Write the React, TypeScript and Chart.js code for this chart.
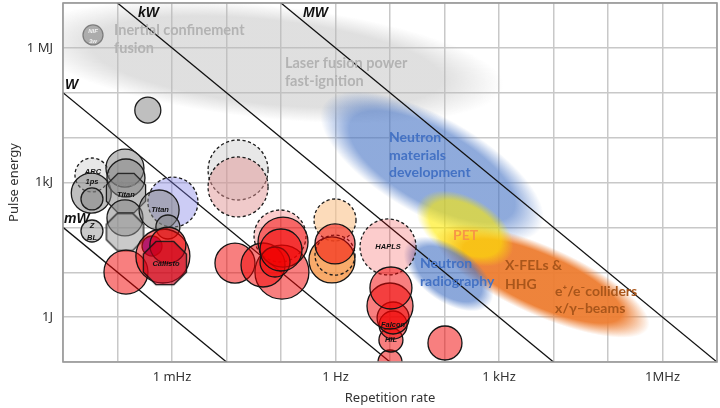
import { useEffect, useRef } from "react";
import { Chart, registerables } from "chart.js";

Chart.register(...registerables);

// ---------- axes ----------
const xTickValues = [1e-5, 1e-4, 1e-3, 1e-2, 1e-1, 1, 1e1, 1e2, 1e3, 1e4, 1e5, 1e6, 1e7];
const xLabeledValues = [1e-3, 1, 1e3, 1e6];
const xTickLabels = ["1 mHz", "1 Hz", "1 kHz", "1MHz"];
const yTickValues = [1e-1, 1, 1e1, 1e2, 1e3, 1e4, 1e5, 1e6, 1e7];
const yLabeledValues = [1, 1e3, 1e6];
const yTickLabels = ["1J", "1kJ", "1 MJ"];

// ---------- constant-power lines (W) ----------
const powerLevels = [1e-3, 1, 1e3, 1e6];
const powerLabels = ["mW", "W", "kW", "MW"];
const powerLabelFreq = [1.04e-5, 1.09e-5, 2.38e-4, 0.254];
const powerLabelEnergy = [154, 1.49e5, 5.98e6, 5.98e6];

// ---------- facilities (bubbles), listed bottom to top ----------
const bubbleFreq = [
  3.55e-5, 3.6e-4, 3.4e-5, 3.3e-5, 3.4e-5, 1.37e-4, 1.43e-4, 1.43e-4, 1.37e-4, 1.37e-4, 1.04e-3, 5.8e-4, 8.4e-4, 3.4e-5,
  1.43e-4, 4.3e-4, 6.8e-4, 8.4e-4, 7.4e-4,
  0.0163, 0.0163,
  0.096, 0.0143, 0.104, 0.0468, 0.109, 0.0776, 0.1,
  0.98, 0.86, 0.98, 0.98,
  9.2, 10, 10.4, 11.4, 11.4, 10, 10.4,
  102,
];
const bubbleEnergy = [
  1.94e6, 4.1e4, 1470, 580, 430, 2100, 1260, 580, 162, 79, 367, 244, 102, 83,
  10.1, 38.5, 23, 40, 16,
  1900, 795,
  64.3, 16, 10.1, 14.5, 47, 16.9, 31.3,
  146, 18.8, 24.2, 42.7,
  36.6, 0.1, 0.309, 0.668, 0.957, 1.77, 4.46,
  0.265,
];
const bubbleSize = [
  10, 13, 17, 20, 11, 19, 19, 20, 18, 19, 25, 20, 12, 11,
  22, 10, 27, 18, 22,
  30, 30,
  26, 20, 27, 22, 25, 15, 21,
  21, 23, 20, 20,
  28, 12, 12, 14, 16, 23, 21,
  17,
];
const bubbleKind = [
  "grayEdge", "gray", "grayDash", "gray", "gray", "gray", "gray", "gray", "gray", "grayLight", "lavenderDash", "gray", "gray", "grayLight",
  "red", "purple", "red", "red", "darkRed",
  "grayDash", "roseDash",
  "paleDash", "red", "red", "red", "red", "red", "red",
  "orangeDash", "orange", "clearDash", "red",
  "paleDash", "red", "red", "red", "red", "red", "red",
  "red",
];
const bubbleShape = [
  "circle", "circle", "circle", "circle", "circle", "circle", "circle", "octagon", "circle", "octagon", "circle", "circle", "circle", "circle",
  "circle", "circle", "circle", "circle", "octagon",
  "circle", "circle",
  "circle", "circle", "circle", "circle", "circle", "circle", "circle",
  "circle", "circle", "circle", "circle",
  "circle", "circle", "circle", "circle", "circle", "circle", "circle",
  "circle",
];

// ---------- facility names ----------
const facilityNames = ["NIF", "3w", "ARC", "1ps", "Nova", "Titan", "Titan", "Z", "BL", "Callisto", "HAPLS", "Falcon", "HIL"];
const facilityNameFreq = [3.55e-5, 3.55e-5, 3.55e-5, 3.4e-5, 1.43e-4, 1.43e-4, 6.03e-4, 3.4e-5, 3.4e-5, 7.76e-4, 9.2, 11.4, 10.4];
const facilityNameEnergy = [2.38e6, 1.42e6, 1710, 1030, 927, 526, 244, 107, 58, 15.3, 36.6, 0.668, 0.309];
const facilityNameKind = ["tiny", "tiny", "small", "small", "smallGray", "small", "small", "small", "small", "small", "small", "small", "small"];

// ---------- application areas (soft ellipses): major-axis end points + half width (decades) ----------
const areaNames = ["fusion", "materials", "xfel", "pet", "radiography"];
const areaStartFreq = [8.8e-6, 1.07, 126, 43.9, 25.4];
const areaStartEnergy = [1.5e6, 3.54e4, 52, 315, 34.7];
const areaEndFreq = [330, 3266, 3.1e5, 1288, 553];
const areaEndEnergy = [1.6e5, 146, 0.78, 28.2, 2.41];
const areaHalfWidth = [1.1, 0.96, 0.67, 0.6, 0.535];

// ---------- application labels ----------
const areaLabels = [
  "Inertial confinement", "fusion", "Laser fusion power", "fast-ignition",
  "Neutron", "materials", "development", "PET", "Neutron", "radiography",
  "X-FELs &", "HHG", "e\u207A/e\u207Bcolliders", "x/\u03B3\u2013beams",
];
const areaLabelFreq = [8.63e-5, 8.63e-5, 0.118, 0.118, 9.6, 9.6, 9.6, 143, 35.5, 35.5, 1288, 1288, 1.07e4, 1.07e4];
const areaLabelEnergy = [2.5e6, 9.93e5, 4.6e5, 1.83e5, 1.03e4, 4100, 1630, 67.6, 15.3, 6.07, 13.8, 5.47, 3.82, 1.52];
const areaLabelKind = ["gray", "gray", "gray", "gray", "blue", "blue", "blue", "pet", "blue", "blue", "brown", "brown", "brown", "brown"];

// ---------- styles ----------
const bubbleStyles: Record<string, { fill: string; border: string; dash: boolean }> = {
  grayEdge: { fill: "rgba(150,150,150,0.7)", border: "#7d7d7d", dash: false },
  gray: { fill: "rgba(128,128,128,0.5)", border: "#1c1c1c", dash: false },
  grayLight: { fill: "rgba(150,150,150,0.5)", border: "#1c1c1c", dash: false },
  grayDash: { fill: "rgba(150,150,150,0.22)", border: "#1c1c1c", dash: true },
  lavenderDash: { fill: "rgba(120,120,230,0.38)", border: "#1c1c1c", dash: true },
  purple: { fill: "rgba(115,45,215,0.95)", border: "#1c1c1c", dash: false },
  red: { fill: "rgba(242,0,0,0.5)", border: "#141414", dash: false },
  darkRed: { fill: "rgba(200,0,25,0.6)", border: "#141414", dash: false },
  roseDash: { fill: "rgba(225,150,150,0.5)", border: "#1c1c1c", dash: true },
  paleDash: { fill: "rgba(240,0,0,0.2)", border: "#1c1c1c", dash: true },
  orangeDash: { fill: "rgba(250,195,140,0.6)", border: "#1c1c1c", dash: true },
  orange: { fill: "rgba(247,150,70,0.8)", border: "#141414", dash: false },
  clearDash: { fill: "rgba(255,255,255,0)", border: "#1c1c1c", dash: true },
};

const areaColors: Record<string, string> = {
  fusion: "rgba(185,185,185,0.45)",
  materials: "rgba(68,114,196,0.6)",
  xfel: "rgba(237,125,49,0.95)",
  pet: "rgba(255,235,0,0.6)",
  radiography: "rgba(68,114,196,0.62)",
};
const areaSoftEdge = 1.15;

const areaLabelStyles: Record<string, { font: string; color: string }> = {
  gray: { font: "bold 14.5px Lato", color: "#b3b3b3" },
  blue: { font: "bold 14px Lato", color: "#4472c4" },
  pet: { font: "bold 14px Lato", color: "#f79646" },
  brown: { font: "bold 14px Lato", color: "#a9561b" },
};

const facilityLabelStyles: Record<string, { font: string; color: string }> = {
  tiny: { font: "italic bold 6px 'Liberation Sans'", color: "#f2f2f2" },
  small: { font: "italic bold 7.5px 'Liberation Sans'", color: "#111" },
  smallGray: { font: "italic bold 7.5px 'Liberation Sans'", color: "#8a8a8a" },
};

function makeOctagon(r: number, fill: string, stroke: string, lw: number): HTMLCanvasElement {
  const R = r * 1.06;
  const size = Math.ceil(2 * R + lw * 2 + 2);
  const c = document.createElement("canvas");
  c.width = size;
  c.height = size;
  const g = c.getContext("2d")!;
  g.translate(size / 2, size / 2);
  g.beginPath();
  for (let k = 0; k < 8; k++) {
    const a = Math.PI / 8 + (k * Math.PI) / 4;
    const px = R * Math.cos(a);
    const py = R * Math.sin(a);
    if (k === 0) g.moveTo(px, py);
    else g.lineTo(px, py);
  }
  g.closePath();
  g.fillStyle = fill;
  g.fill();
  g.lineWidth = lw;
  g.strokeStyle = stroke;
  g.stroke();
  return c;
}

function labelFor(value: number, values: number[], labels: string[]) {
  const i = values.findIndex((v) => Math.abs(Math.log10(v) - Math.log10(value)) < 1e-6);
  return i >= 0 ? labels[i] : "";
}

const areaPlugin = {
  id: "areas",
  beforeDatasetsDraw(chart: any) {
    const { ctx, chartArea: ca } = chart;
    const xs = chart.scales.x;
    const ys = chart.scales.y;
    const pxPerDecY = Math.abs(ys.getPixelForValue(1) - ys.getPixelForValue(10));
    ctx.save();
    ctx.beginPath();
    ctx.rect(ca.left, ca.top, ca.right - ca.left, ca.bottom - ca.top);
    ctx.clip();
    areaNames.forEach((name, i) => {
      const x1 = xs.getPixelForValue(areaStartFreq[i]);
      const y1 = ys.getPixelForValue(areaStartEnergy[i]);
      const x2 = xs.getPixelForValue(areaEndFreq[i]);
      const y2 = ys.getPixelForValue(areaEndEnergy[i]);
      const cx = (x1 + x2) / 2;
      const cy = (y1 + y2) / 2;
      const a = (Math.hypot(x2 - x1, y2 - y1) / 2) * areaSoftEdge;
      const b = areaHalfWidth[i] * pxPerDecY * areaSoftEdge;
      const ang = Math.atan2(y2 - y1, x2 - x1);
      const color = areaColors[name];
      ctx.save();
      ctx.translate(cx, cy);
      ctx.rotate(ang);
      ctx.scale(a, b);
      const grad = ctx.createRadialGradient(0, 0, 0, 0, 0, 1);
      grad.addColorStop(0, color);
      grad.addColorStop(0.74, color);
      grad.addColorStop(1, color.replace(/[\d.]+\)$/, "0)"));
      ctx.fillStyle = grad;
      ctx.beginPath();
      ctx.arc(0, 0, 1, 0, Math.PI * 2);
      ctx.fill();
      ctx.restore();
    });
    ctx.restore();
  },
};

const dashPlugin = {
  id: "dashes",
  beforeDatasetDraw(chart: any, args: any) {
    const ds = chart.data.datasets[args.index];
    chart.ctx.save();
    if (ds.dashed) chart.ctx.setLineDash([3.2, 2.4]);
  },
  afterDatasetDraw(chart: any) {
    chart.ctx.restore();
  },
};

const textPlugin = {
  id: "texts",
  afterDatasetsDraw(chart: any) {
    const { ctx } = chart;
    const xs = chart.scales.x;
    const ys = chart.scales.y;
    ctx.save();
    ctx.textBaseline = "middle";
    ctx.textAlign = "left";
    areaLabels.forEach((t, i) => {
      const st = areaLabelStyles[areaLabelKind[i]];
      ctx.font = st.font;
      ctx.fillStyle = st.color;
      ctx.fillText(t, xs.getPixelForValue(areaLabelFreq[i]), ys.getPixelForValue(areaLabelEnergy[i]));
    });
    ctx.font = "italic bold 14px 'Liberation Sans'";
    ctx.fillStyle = "#111";
    powerLabels.forEach((t, i) => {
      ctx.fillText(t, xs.getPixelForValue(powerLabelFreq[i]), ys.getPixelForValue(powerLabelEnergy[i]));
    });
    ctx.textAlign = "center";
    facilityNames.forEach((t, i) => {
      const st = facilityLabelStyles[facilityNameKind[i]];
      ctx.font = st.font;
      ctx.fillStyle = st.color;
      ctx.fillText(t, xs.getPixelForValue(facilityNameFreq[i]), ys.getPixelForValue(facilityNameEnergy[i]));
    });
    ctx.restore();
  },
};

const framePlugin = {
  id: "frame",
  afterDraw(chart: any) {
    const { ctx, chartArea: ca } = chart;
    ctx.save();
    ctx.strokeStyle = "#9a9a9a";
    ctx.lineWidth = 1.6;
    ctx.strokeRect(ca.left, ca.top, ca.right - ca.left, ca.bottom - ca.top);
    ctx.restore();
  },
};

function zeroPadding(s: any) {
  s.paddingTop = 0;
  s.paddingBottom = 0;
  s.paddingLeft = 0;
  s.paddingRight = 0;
}

export default function App() {
  const ref = useRef<HTMLCanvasElement>(null);
  useEffect(() => {
    if (!ref.current) return;
    const bubbleDatasets: any[] = bubbleFreq
      .map((f, i) => {
        const st = bubbleStyles[bubbleKind[i]];
        return {
          type: "bubble",
          data: [{ x: f, y: bubbleEnergy[i], r: bubbleSize[i] }],
          backgroundColor: st.fill,
          borderColor: st.border,
          borderWidth: 1.3,
          pointStyle: bubbleShape[i] === "octagon" ? makeOctagon(bubbleSize[i], st.fill, st.border, 1.3) : "circle",
          dashed: st.dash,
          clip: 0,
        };
      })
      .reverse();
    const lineDatasets: any[] = powerLevels.map((p) => ({
      type: "line",
      data: [
        { x: 1e-5, y: p / 1e-5 },
        { x: 1e7, y: p / 1e7 },
      ],
      borderColor: "#111",
      borderWidth: 1.3,
      pointRadius: 0,
      fill: false,
      tension: 0,
      clip: 0,
    }));

    const tickFont = { family: "'Noto Sans'", size: 13 };
    const chart = new Chart(ref.current, {
      type: "bubble",
      data: { datasets: [...bubbleDatasets, ...lineDatasets] },
      options: {
        animation: false,
        responsive: true,
        maintainAspectRatio: false,
        events: [],
        layout: { autoPadding: false, padding: { top: 3, right: 3, left: 0, bottom: 0 } },
        plugins: { legend: { display: false }, tooltip: { enabled: false } },
        scales: {
          x: {
            type: "logarithmic",
            min: 1e-5,
            max: 1e7,
            afterBuildTicks: (s: any) => {
              s.ticks = xTickValues.map((v) => ({ value: v }));
            },
            afterFit: (s: any) => {
              s.height = 46;
              zeroPadding(s);
            },
            ticks: {
              autoSkip: false,
              maxRotation: 0,
              padding: 7,
              color: "#333",
              font: tickFont,
              callback: (v: any) => labelFor(Number(v), xLabeledValues, xTickLabels),
            },
            grid: { color: "#c8c8c8", lineWidth: 1.5, drawTicks: false },
            border: { display: false },
            title: {
              display: true,
              text: "Repetition rate",
              color: "#333",
              font: tickFont,
              padding: { top: 0, bottom: 2 },
            },
          },
          y: {
            type: "logarithmic",
            min: 0.1,
            max: 1e7,
            afterBuildTicks: (s: any) => {
              s.ticks = yTickValues.map((v) => ({ value: v }));
            },
            afterFit: (s: any) => {
              s.width = 63;
              zeroPadding(s);
            },
            ticks: {
              autoSkip: false,
              padding: 10,
              color: "#333",
              font: tickFont,
              callback: (v: any) => labelFor(Number(v), yLabeledValues, yTickLabels),
            },
            grid: { color: "#c8c8c8", lineWidth: 1.5, drawTicks: false },
            border: { display: false },
            title: {
              display: true,
              text: "Pulse energy",
              color: "#333",
              font: tickFont,
              padding: { top: 6, bottom: 0 },
            },
          },
        },
      } as any,
      plugins: [areaPlugin, dashPlugin, textPlugin, framePlugin],
    } as any);
    return () => chart.destroy();
  }, []);
  return (
    <div style={{ position: "absolute", left: 0, top: 0, width: 720, height: 408 }}>
      <canvas ref={ref} />
    </div>
  );
}
